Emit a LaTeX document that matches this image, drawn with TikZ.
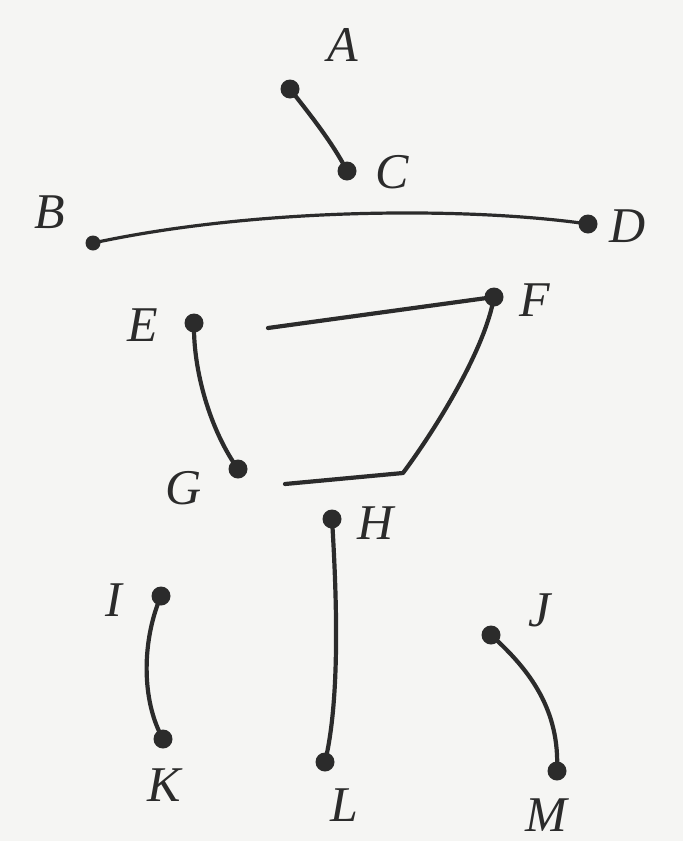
\documentclass[tikz,border=0pt]{standalone}
\usepackage{fontspec}
\setmainfont{Liberation Serif}
\definecolor{ink}{HTML}{2B2B2B}
\definecolor{paper}{HTML}{F5F5F3}
\tikzset{
  pin/.style={circle,fill=ink,inner sep=0pt,minimum size=19pt},
  smallpin/.style={circle,fill=ink,inner sep=0pt,minimum size=15pt},
  lbl/.style={font=\fontsize{50}{54}\selectfont\itshape,text=ink,inner sep=0pt},
  wire/.style={draw=ink,line width=4.2pt,line cap=round,line join=round},
  thinwire/.style={draw=ink,line width=3.2pt,line cap=round}
}
\begin{document}
\begin{tikzpicture}[x=1pt,y=-1pt]
\fill[paper] (0,0) rectangle (683,841);
\useasboundingbox (0,0) rectangle (683,841);
% dots
\node[pin] (A) at (290,89) {};
\node[pin] (C) at (347,171) {};
\node[smallpin] (B) at (93,243) {};
\node[pin] (D) at (588,224) {};
\node[pin] (E) at (194,323) {};
\node[pin] (F) at (494,297) {};
\node[pin] (G) at (238,469) {};
\node[pin] (H) at (332,519) {};
\node[pin] (L) at (325,762) {};
\node[pin] (I) at (161,596) {};
\node[pin] (K) at (163,739) {};
\node[pin] (J) at (491,635) {};
\node[pin] (M) at (557,771) {};
\coordinate (f1) at (268,328);
\coordinate (bend) at (403,473);
\coordinate (f2) at (285,484);
% labels
\node[lbl] (lA) at (343,45) {A};
\node[lbl] (lC) at (392,172) {C};
\node[lbl] (lB) at (50,212) {B};
\node[lbl] (lD) at (628,226) {D};
\node[lbl] (lE) at (143,325) {E};
\node[lbl] (lF) at (535,300) {F};
\node[lbl] (lG) at (184,488) {G};
\node[lbl] (lH) at (376,523) {H};
\node[lbl] (lI) at (114,600) {I};
\node[lbl] (lJ) at (540,610) {J};
\node[lbl] (lK) at (164,785) {K};
\node[lbl] (lL) at (344,805) {L};
\node[lbl] (lM) at (546,815) {M};
% connectors
\draw[wire] (A.center) .. controls (308,112) and (333,143) .. (C.center);
\draw[thinwire] (B.center) .. controls (260,207) and (470,207) .. (D.center);
\draw[wire] (E.center) .. controls (193,370) and (210,430) .. (G.center);
\draw[wire] (f1) -- (F.center);
\draw[wire] (F.center) .. controls (485,350) and (435,430) .. (bend) -- (f2);
\draw[wire] (H.center) .. controls (337,600) and (340,700) .. (L.center);
\draw[wire] (I.center) .. controls (142,640) and (141,700) .. (K.center);
\draw[wire] (J.center) .. controls (530,670) and (560,710) .. (M.center);
\end{tikzpicture}
\end{document}
